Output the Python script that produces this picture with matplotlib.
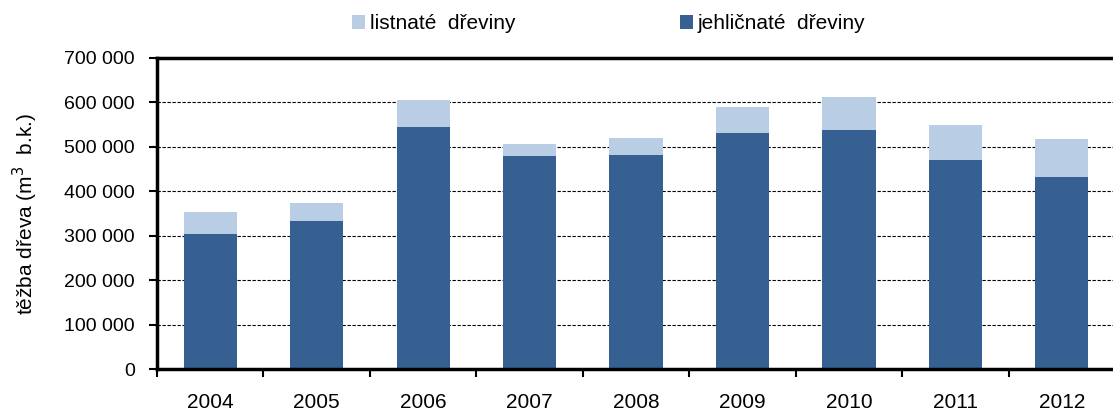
import matplotlib.pyplot as plt
import numpy as np
from matplotlib.ticker import FuncFormatter

plt.rcParams['font.family'] = ['Liberation Sans', 'DejaVu Sans']

# Timber harvest (m3 u.b.)
years = ['2004', '2005', '2006', '2007', '2008', '2009', '2010', '2011', '2012']
jehlicnate = [304000, 333000, 545000, 480000, 482000, 531000, 538000, 471000, 432000]
listnate = [50000, 41000, 61000, 27000, 38000, 59000, 75000, 79000, 86000]

dark = '#366092'
light = '#B9CDE5'

fig = plt.figure(figsize=(11.13, 4.12), dpi=100)
ax = fig.add_axes([157 / 1113, 1 - 369 / 412, 958 / 1113, 311 / 412])

x = np.arange(len(years))
ax.bar(x, jehlicnate, width=0.5, color=dark, label='jehličnaté  dřeviny', zorder=2)
ax.bar(x, listnate, width=0.5, bottom=jehlicnate, color=light,
       label='listnaté  dřeviny', zorder=2)

ax.set_xlim(-0.5, len(years) - 0.5)
ax.set_ylim(0, 700000)
ax.set_yticks(np.arange(0, 700001, 100000))
ax.yaxis.set_major_formatter(FuncFormatter(lambda v, p: f'{int(v):,}'.replace(',', ' ')))
ax.yaxis.grid(True, linestyle=(0, (3, 1.5)), color='black', linewidth=0.8, zorder=1)

# labels at centers, ticks between categories
ax.set_xticks(x)
ax.set_xticklabels(years)
ax.tick_params(axis='x', which='major', length=0, pad=17, labelsize=15)
ax.set_xticks(np.arange(-0.5, len(years), 1), minor=True)
ax.tick_params(axis='x', which='minor', length=6, width=1.5, direction='out')
ax.tick_params(axis='y', length=6, width=1.5, direction='out', pad=10, labelsize=14)

for s in ['left', 'bottom', 'top']:
    ax.spines[s].set_linewidth(2.5)
ax.spines['right'].set_visible(False)

ax.set_ylabel('těžba dřeva (m$^3$  b.k.)', fontsize=15, labelpad=17)

h, l = ax.get_legend_handles_labels()
fig.legend([h[1], h[0]], [l[1], l[0]], loc='center', bbox_to_anchor=(0.547, 0.942),
           ncol=2, frameon=False, fontsize=15, handlelength=0.6, handleheight=0.7,
           handletextpad=0.25, columnspacing=7.9)

fig.savefig('out.png', dpi=100)
